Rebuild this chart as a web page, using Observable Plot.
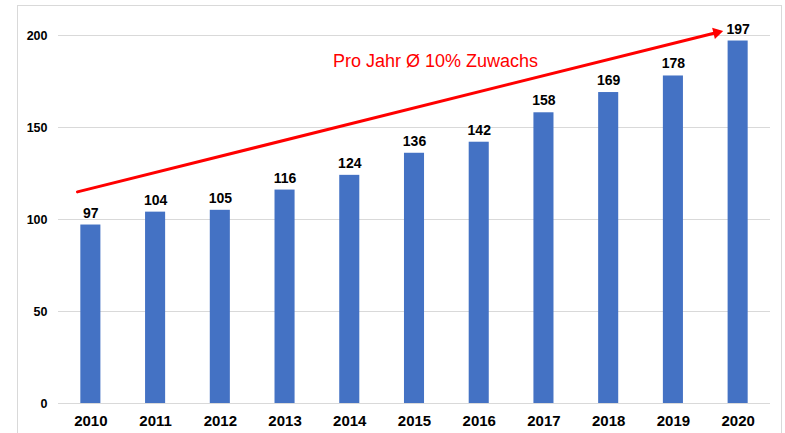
<!DOCTYPE html>
<html>
<head>
<meta charset="utf-8">
<script src="https://cdn.jsdelivr.net/npm/d3@7"></script>
<script src="https://cdn.jsdelivr.net/npm/@observablehq/plot@0.6"></script>
<style>
  html, body { margin: 0; padding: 0; background: #fff; }
  #wrap { position: relative; width: 785px; height: 433px; }
  #frame { position: absolute; left: 17px; top: 5px; width: 765px; height: 440px; border: 1px solid #d9d9d9; box-sizing: border-box; pointer-events: none; }
  svg { display: block; }
</style>
</head>
<body>
<div id="wrap"><div id="frame"></div></div>
<script>
const years = ["2010","2011","2012","2013","2014","2015","2016","2017","2018","2019","2020"];
const values = [97, 104, 105, 116, 124, 136, 142, 158, 169, 178, 197];
const yTicks = [0, 50, 100, 150, 200];
const trendLabel = "Pro Jahr Ø 10% Zuwachs";
const trendStart = {year: "2010", value: 115};
const trendEnd = {year: "2020", value: 202.7};
const labelAnchor = {year: "2015", value: 186};

const data = years.map((y, i) => ({year: y, value: values[i]}));
const font = "'Liberation Sans', Arial, sans-serif";

const chart = Plot.plot({
  width: 785,
  height: 433,
  marginLeft: 58,
  marginRight: 15,
  marginTop: 35,
  marginBottom: 30,
  style: {fontFamily: font, background: "transparent"},
  x: {domain: years, paddingInner: 0.69, paddingOuter: 0.345, round: false, label: null},
  y: {domain: [0, 200], label: null},
  marks: [
    Plot.gridY(yTicks, {stroke: "#d9d9d9", strokeOpacity: 1, strokeWidth: 1}),
    Plot.barY(data, {x: "year", y: "value", fill: "#4472c4"}),
    Plot.text(data, {x: "year", y: "value", text: d => String(d.value), dy: -12, fontSize: 14, fontWeight: "bold", fill: "#000"}),
    Plot.axisX({tickSize: 0, tickPadding: 12, fontSize: 15, fontWeight: "bold", fill: "#000"}),
    Plot.axisY(yTicks, {tickSize: 0, tickPadding: 11, fontSize: 12.5, fontWeight: "bold", fill: "#000"}),
    Plot.arrow([{x1: trendStart.year, y1: trendStart.value, x2: trendEnd.year, y2: trendEnd.value}], {
      x1: "x1", y1: "y1", x2: "x2", y2: "y2", dx: -13.4, insetEnd: 8, headLength: 0, stroke: "#ff0000", strokeWidth: 3
    }),
    Plot.dot([trendEnd], {x: "year", y: "value", dx: -21.4, dy: 2, symbol: "triangle2", r: 5.5, fill: "#ff0000", stroke: "none", rotate: 76}),
    Plot.text([labelAnchor], {x: "year", y: "value", text: () => trendLabel, dx: 21, fontSize: 18, fill: "#ff0000"})
  ]
});
document.getElementById("wrap").prepend(chart);
</script>
</body>
</html>
